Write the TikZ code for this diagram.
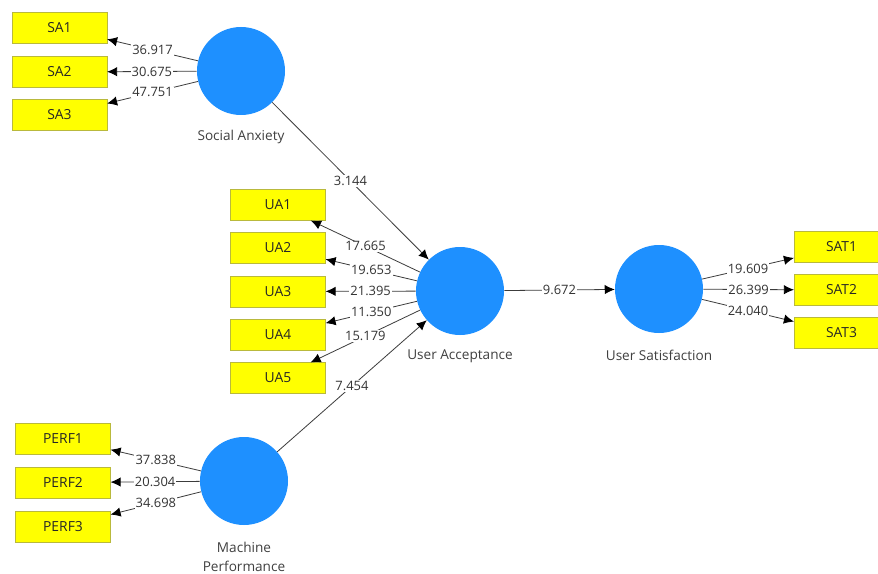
\documentclass[tikz,border=0pt]{standalone}
\usepackage{fontspec}
\setmainfont{Open Sans}
\usetikzlibrary{arrows.meta}

\definecolor{lvblue}{RGB}{30,144,255}
\definecolor{indyellow}{RGB}{255,255,0}
\definecolor{indedge}{RGB}{185,185,60}
\definecolor{pathgray}{RGB}{60,60,60}

\begin{document}
\begin{tikzpicture}[x=0.75pt, y=-0.75pt,
	ind/.style={draw=indedge, fill=indyellow, minimum width=71pt, minimum height=23pt, inner sep=0pt, text=black!85, font=\fontsize{10.4}{12}\selectfont},
	lv/.style={circle, fill=lvblue, minimum size=66pt, inner sep=0pt},
	lvname/.style={text=black!75, align=center, font=\fontsize{10.2}{14.3}\selectfont},
	path/.style={draw=pathgray, line width=0.6pt, -{Latex[color=black, length=7.5pt, width=7pt]}},
	val/.style={fill=white, inner sep=0.8pt, text=black!80, font=\fontsize{9.7}{11}\selectfont}]
	\useasboundingbox[fill=white] (0,0) rectangle (878,574);

	% 1. Social Anxiety
	\node[lv] (sa) at (241,71) {};
	\node[lvname] (sa-name) at (241,137) {Social Anxiety};
	\node[ind] (sa1) at (59.5,28) {SA1};
	\node[ind] (sa2) at (59.5,72) {SA2};
	\node[ind] (sa3) at (59.5,115) {SA3};
	\draw[path] (sa) -- node[val] {36.917} (sa1);
	\draw[path] (sa) -- node[val] {30.675} (sa2);
	\draw[path] (sa) -- node[val] {47.751} (sa3);

	% 2. User Acceptance
	\node[lv] (ua) at (460,291) {};
	\node[lvname] (ua-name) at (460,356) {User Acceptance};
	\node[ind] (ua1) at (278,205) {UA1};
	\node[ind] (ua2) at (278,248) {UA2};
	\node[ind] (ua3) at (278,291.5) {UA3};
	\node[ind] (ua4) at (278,334.5) {UA4};
	\node[ind] (ua5) at (278,378) {UA5};
	\draw[path] (ua) -- node[val] {17.665} (ua1);
	\draw[path] (ua) -- node[val] {19.653} (ua2);
	\draw[path] (ua) -- node[val] {21.395} (ua3);
	\draw[path] (ua) -- node[val] {11.350} (ua4);
	\draw[path] (ua) -- node[val] {15.179} (ua5);

	% 3. Machine Performance
	\node[lv] (mp) at (244,481) {};
	\node[lvname] (mp-name) at (244,557) {Machine\\Performance};
	\node[ind] (perf1) at (63,438.5) {PERF1};
	\node[ind] (perf2) at (63,482.5) {PERF2};
	\node[ind] (perf3) at (63,526.5) {PERF3};
	\draw[path] (mp) -- node[val] {37.838} (perf1);
	\draw[path] (mp) -- node[val] {20.304} (perf2);
	\draw[path] (mp) -- node[val] {34.698} (perf3);

	% 4. User Satisfaction
	\node[lv] (us) at (659,289) {};
	\node[lvname] (us-name) at (659,355) {User Satisfaction};
	\node[ind] (sat1) at (841.5,247) {SAT1};
	\node[ind] (sat2) at (841.5,290) {SAT2};
	\node[ind] (sat3) at (841.5,333) {SAT3};
	\draw[path] (us) -- node[val] {19.609} (sat1);
	\draw[path] (us) -- node[val] {26.399} (sat2);
	\draw[path] (us) -- node[val] {24.040} (sat3);

	% 5. Structural paths
	\draw[path] (sa) -- node[val] {3.144} (ua);
	\draw[path] (mp) -- node[val] {7.454} (ua);
	\draw[path] (ua) -- node[val] {9.672} (us);
\end{tikzpicture}
\end{document}
